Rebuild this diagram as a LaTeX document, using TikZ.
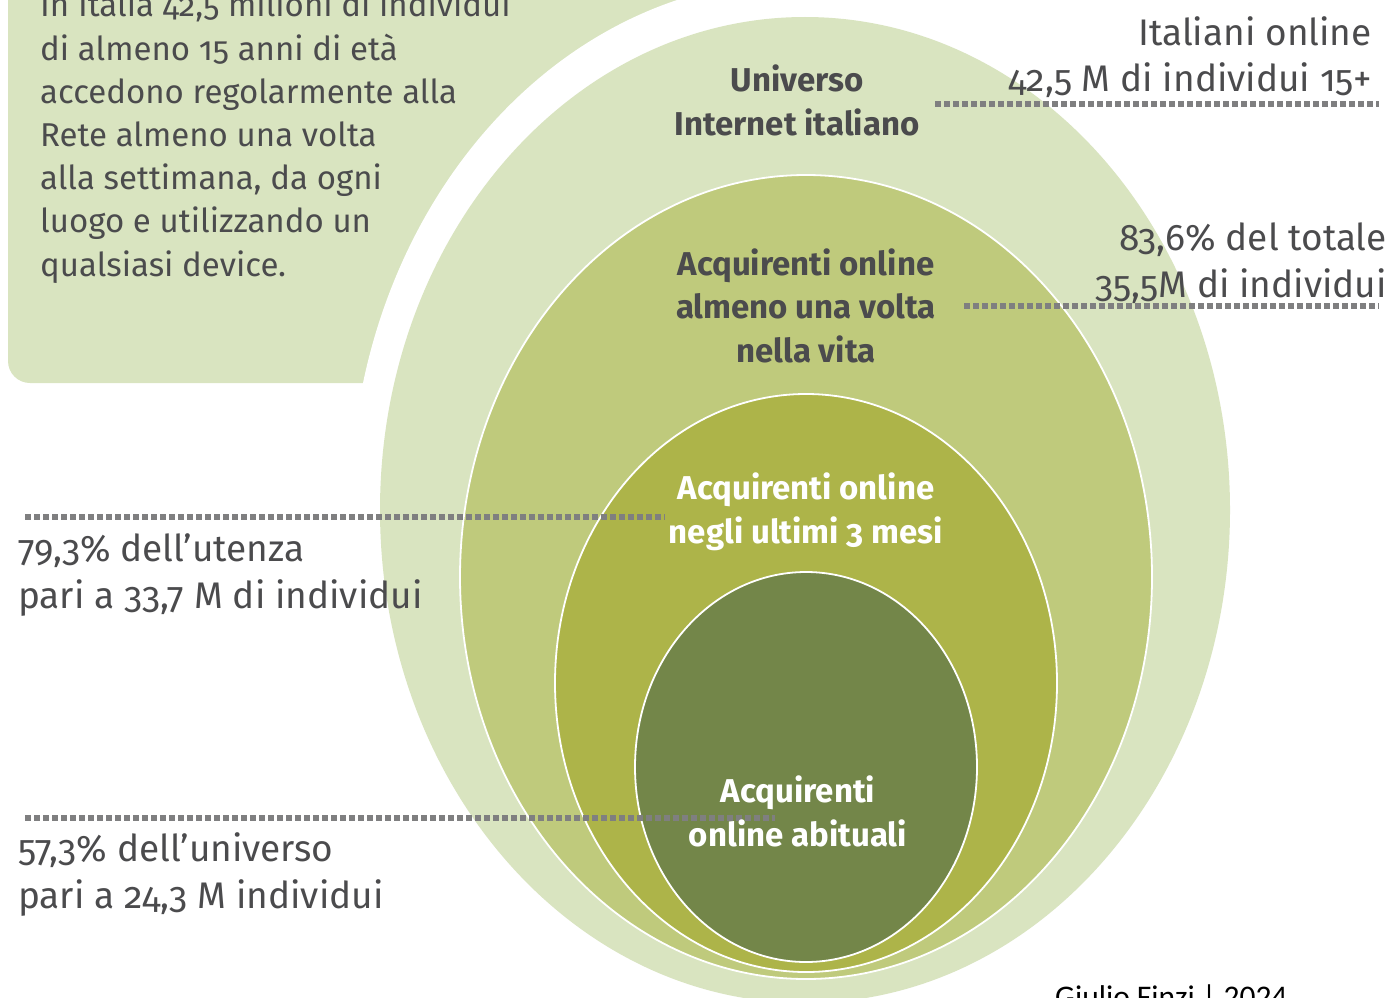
\documentclass[tikz,border=0pt]{standalone}
\usepackage{fontspec}
\setmainfont{Fira Sans}[Numbers=OldStyle]
\newfontfamily\creditfont{Carlito}
\definecolor{cA}{HTML}{D9E4C0}
\definecolor{cB}{HTML}{BFCA7C}
\definecolor{cC}{HTML}{ADB449}
\definecolor{cD}{HTML}{738649}
\definecolor{txt}{HTML}{4B4B4D}
\definecolor{dotc}{HTML}{7F7F80}
\tikzset{
  ring/.style={draw=white, line width=1.8},
  dotline/.style={dotc, line width=5.5, dash pattern=on 6 off 3},
  bodytext/.style={text=txt, inner sep=0, font=\fontsize{33}{43.2}\selectfont},
  sidetext/.style={text=txt, inner sep=0, font=\fontsize{37}{46.5}\selectfont},
  darklabel/.style={text=txt, inner sep=0, align=center, font=\fontsize{33}{43.5}\selectfont\bfseries},
  lightlabel/.style={text=white, inner sep=0, align=center, font=\fontsize{33}{43.5}\selectfont\bfseries},
}
\begin{document}
\begin{tikzpicture}[x=1pt, y=-1pt]
\useasboundingbox (0,0) rectangle (1394,998);
\clip (0,0) rectangle (1394,998);
% top-left box
\fill[cA, rounded corners=22] (8,-60) -- (8,383) -- (760,383) -- (760,-60) -- cycle;
% white gap around the outer ellipse
\fill[white] (800,510) ellipse [x radius=450, y radius=530];
% nested ellipses
\fill[cA] (805,510) ellipse [x radius=425, y radius=493];
\filldraw[fill=cB, ring] (806,577) ellipse [x radius=346, y radius=402];
\filldraw[fill=cC, ring] (806,683) ellipse [x radius=251, y radius=289];
\filldraw[fill=cD, ring] (806,767) ellipse [x radius=171, y radius=195];
% dotted leader lines
\coordinate (r1a) at (935,104);  \coordinate (r1b) at (1379,104);
\coordinate (r2a) at (964,306);  \coordinate (r2b) at (1379,306);
\coordinate (l1a) at (25,517);   \coordinate (l1b) at (665,517);
\coordinate (l2a) at (25,818);   \coordinate (l2b) at (775,818);
\draw[dotline] (r1a) -- (r1b);
\draw[dotline] (r2a) -- (r2b);
\draw[dotline] (l1a) -- (l1b);
\draw[dotline] (l2a) -- (l2b);
% texts
\node[bodytext, align=left, anchor=base west] (intro) at (40,276)
  {In Italia 42,5 milioni di individui\\di almeno 15 anni di età\\accedono regolarmente alla\\Rete almeno una volta\\alla settimana, da ogni\\luogo e utilizzando un\\qualsiasi device.};
\node[darklabel, anchor=base] (univ) at (797,135) {Universo\\Internet italiano};
\node[darklabel, anchor=base] (acqvita) at (806,362) {Acquirenti online\\almeno una volta\\nella vita};
\node[lightlabel, anchor=base] (acqmesi) at (806,543) {Acquirenti online\\negli ultimi 3 mesi};
\node[lightlabel, anchor=base] (abit) at (798,846) {Acquirenti\\online abituali};
\node[sidetext, align=right, anchor=base east] (ital) at (1372,92) {Italiani online\\42,5 M di individui 15+};
\node[sidetext, align=right, anchor=base east] (tot) at (1387,297) {83,6\% del totale\\35,5M di individui};
\node[sidetext, align=left, anchor=base west] (uten) at (18,608) {79,3\% dell’utenza\\pari a 33,7 M di individui};
\node[sidetext, align=left, anchor=base west] (univp) at (18,908) {57,3\% dell’universo\\pari a 24,3 M individui};
\node[inner sep=0, anchor=base west, font=\creditfont\fontsize{31.5}{36}\selectfont] (credit) at (1055,1007) {Giulio Finzi | 2024};
\end{tikzpicture}
\end{document}
